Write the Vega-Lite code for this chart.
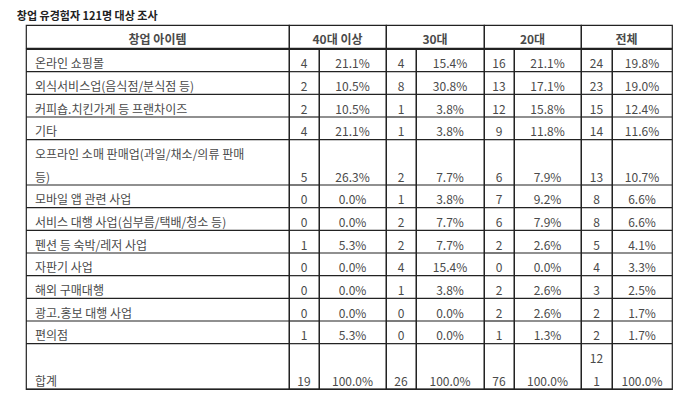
{
"$schema": "https://vega.github.io/schema/vega-lite/v6.json",
"padding": {"left": 16, "top": 11, "right": 5, "bottom": 5},
"title": {"text": "창업 유경험자 121명 대상 조사", "anchor": "start", "font": "Noto Sans CJK KR", "fontSize": 11, "fontWeight": "bold", "color": "#222", "offset": 2, "dx": -8},
"config": {
  "view": {"stroke": "#222", "strokeWidth": 1.2},
  "text": {"font": "Noto Sans CJK KR", "fontSize": 12, "color": "#4a4a4a"}
},
"datasets": {"rows": [
 {"item": "온라인 쇼핑몰", "n40": 4, "p40": 0.211, "n30": 4, "p30": 0.154, "n20": 16, "p20": 0.211, "nAll": 24, "pAll": 0.198},
 {"item": "외식서비스업(음식점/분식점 등)", "n40": 2, "p40": 0.105, "n30": 8, "p30": 0.308, "n20": 13, "p20": 0.171, "nAll": 23, "pAll": 0.19},
 {"item": "커피숍.치킨가게 등 프랜차이즈", "n40": 2, "p40": 0.105, "n30": 1, "p30": 0.038, "n20": 12, "p20": 0.158, "nAll": 15, "pAll": 0.124},
 {"item": "기타", "n40": 4, "p40": 0.211, "n30": 1, "p30": 0.038, "n20": 9, "p20": 0.118, "nAll": 14, "pAll": 0.116},
 {"item": "오프라인 소매 판매업(과일/채소/의류 판매\n등)", "n40": 5, "p40": 0.263, "n30": 2, "p30": 0.077, "n20": 6, "p20": 0.079, "nAll": 13, "pAll": 0.107},
 {"item": "모바일 앱 관련 사업", "n40": 0, "p40": 0, "n30": 1, "p30": 0.038, "n20": 7, "p20": 0.092, "nAll": 8, "pAll": 0.066},
 {"item": "서비스 대행 사업(심부름/택배/청소 등)", "n40": 0, "p40": 0, "n30": 2, "p30": 0.077, "n20": 6, "p20": 0.079, "nAll": 8, "pAll": 0.066},
 {"item": "펜션 등 숙박/레저 사업", "n40": 1, "p40": 0.053, "n30": 2, "p30": 0.077, "n20": 2, "p20": 0.026, "nAll": 5, "pAll": 0.041},
 {"item": "자판기 사업", "n40": 0, "p40": 0, "n30": 4, "p30": 0.154, "n20": 0, "p20": 0, "nAll": 4, "pAll": 0.033},
 {"item": "해외 구매대행", "n40": 0, "p40": 0, "n30": 1, "p30": 0.038, "n20": 2, "p20": 0.026, "nAll": 3, "pAll": 0.025},
 {"item": "광고.홍보 대행 사업", "n40": 0, "p40": 0, "n30": 0, "p30": 0, "n20": 2, "p20": 0.026, "nAll": 2, "pAll": 0.017},
 {"item": "편의점", "n40": 1, "p40": 0.053, "n30": 0, "p30": 0, "n20": 1, "p20": 0.013, "nAll": 2, "pAll": 0.017},
 {"item": "합계", "n40": 19, "p40": 1, "n30": 26, "p30": 1, "n20": 76, "p20": 1, "nAll": 121, "pAll": 1}
]},
"spacing": -1.2,
"vconcat": [
 {"spacing": 0, "bounds": "flush", "hconcat": [
   {"width": 263, "height": 23, "data": {"values": [{"h": "창업 아이템"}]}, "mark": {"type": "text", "fontWeight": "bold", "dy": 3}, "encoding": {"x": {"field": "h", "type": "nominal", "axis": null}, "y": {"field": "h", "type": "nominal", "axis": null}, "text": {"field": "h"}}},
   {"width": 97, "height": 23, "data": {"values": [{"h": "40대 이상"}]}, "mark": {"type": "text", "fontWeight": "bold", "dy": 3}, "encoding": {"x": {"field": "h", "type": "nominal", "axis": null}, "y": {"field": "h", "type": "nominal", "axis": null}, "text": {"field": "h"}}},
   {"width": 98, "height": 23, "data": {"values": [{"h": "30대"}]}, "mark": {"type": "text", "fontWeight": "bold", "dy": 3}, "encoding": {"x": {"field": "h", "type": "nominal", "axis": null}, "y": {"field": "h", "type": "nominal", "axis": null}, "text": {"field": "h"}}},
   {"width": 97, "height": 23, "data": {"values": [{"h": "20대"}]}, "mark": {"type": "text", "fontWeight": "bold", "dy": 3}, "encoding": {"x": {"field": "h", "type": "nominal", "axis": null}, "y": {"field": "h", "type": "nominal", "axis": null}, "text": {"field": "h"}}},
   {"width": 91, "height": 23, "data": {"values": [{"h": "전체"}]}, "mark": {"type": "text", "fontWeight": "bold", "dy": 3}, "encoding": {"x": {"field": "h", "type": "nominal", "axis": null}, "y": {"field": "h", "type": "nominal", "axis": null}, "text": {"field": "h"}}}
 ]},
 {"spacing": 0, "bounds": "flush", "hconcat": [
   {"width": 263, "height": 340, "data": {"name": "rows"}, "layer": [
     {"mark": {"type": "rule", "color": "#222", "strokeWidth": 1.2}, "encoding": {"y": {"field": "item", "type": "nominal", "bandPosition": 1, "axis": null, "scale": {"type": "band", "paddingInner": 0, "paddingOuter": 0, "domain": ["온라인 쇼핑몰","외식서비스업(음식점/분식점 등)","커피숍.치킨가게 등 프랜차이즈","기타"," ","오프라인 소매 판매업(과일/채소/의류 판매\n등)","모바일 앱 관련 사업","서비스 대행 사업(심부름/택배/청소 등)","펜션 등 숙박/레저 사업","자판기 사업","해외 구매대행","광고.홍보 대행 사업","편의점","  ","합계"]}}}},
     {"transform": [{"filter": "indexof(datum.item, '\\n') < 0"}], "mark": {"type": "text", "align": "left", "dx": 9, "dy": 4}, "encoding": {"x": {"value": 0}, "y": {"field": "item", "type": "nominal", "axis": null, "scale": {"type": "band", "paddingInner": 0, "paddingOuter": 0, "domain": ["온라인 쇼핑몰","외식서비스업(음식점/분식점 등)","커피숍.치킨가게 등 프랜차이즈","기타"," ","오프라인 소매 판매업(과일/채소/의류 판매\n등)","모바일 앱 관련 사업","서비스 대행 사업(심부름/택배/청소 등)","펜션 등 숙박/레저 사업","자판기 사업","해외 구매대행","광고.홍보 대행 사업","편의점","  ","합계"]}}, "text": {"field": "item"}}},
     {"transform": [{"filter": "indexof(datum.item, '\\n') >= 0"}], "mark": {"type": "text", "align": "left", "dx": 9, "dy": -18.7, "lineBreak": "\n", "lineHeight": 22.7}, "encoding": {"x": {"value": 0}, "y": {"field": "item", "type": "nominal", "axis": null, "scale": {"type": "band", "paddingInner": 0, "paddingOuter": 0, "domain": ["온라인 쇼핑몰","외식서비스업(음식점/분식점 등)","커피숍.치킨가게 등 프랜차이즈","기타"," ","오프라인 소매 판매업(과일/채소/의류 판매\n등)","모바일 앱 관련 사업","서비스 대행 사업(심부름/택배/청소 등)","펜션 등 숙박/레저 사업","자판기 사업","해외 구매대행","광고.홍보 대행 사업","편의점","  ","합계"]}}, "text": {"field": "item"}}}
   ]},
   {"width": 30, "height": 340, "data": {"name": "rows"}, "layer": [
     {"mark": {"type": "rule", "color": "#222", "strokeWidth": 1.2}, "encoding": {"y": {"field": "item", "type": "nominal", "bandPosition": 1, "axis": null, "scale": {"type": "band", "paddingInner": 0, "paddingOuter": 0, "domain": ["온라인 쇼핑몰","외식서비스업(음식점/분식점 등)","커피숍.치킨가게 등 프랜차이즈","기타"," ","오프라인 소매 판매업(과일/채소/의류 판매\n등)","모바일 앱 관련 사업","서비스 대행 사업(심부름/택배/청소 등)","펜션 등 숙박/레저 사업","자판기 사업","해외 구매대행","광고.홍보 대행 사업","편의점","  ","합계"]}}}},
     {"mark": {"type": "text", "dy": 4}, "encoding": {"y": {"field": "item", "type": "nominal", "axis": null, "scale": {"type": "band", "paddingInner": 0, "paddingOuter": 0, "domain": ["온라인 쇼핑몰","외식서비스업(음식점/분식점 등)","커피숍.치킨가게 등 프랜차이즈","기타"," ","오프라인 소매 판매업(과일/채소/의류 판매\n등)","모바일 앱 관련 사업","서비스 대행 사업(심부름/택배/청소 등)","펜션 등 숙박/레저 사업","자판기 사업","해외 구매대행","광고.홍보 대행 사업","편의점","  ","합계"]}}, "text": {"field": "n40", "type": "quantitative"}}}
   ]},
   {"width": 67, "height": 340, "data": {"name": "rows"}, "layer": [
     {"mark": {"type": "rule", "color": "#222", "strokeWidth": 1.2}, "encoding": {"y": {"field": "item", "type": "nominal", "bandPosition": 1, "axis": null, "scale": {"type": "band", "paddingInner": 0, "paddingOuter": 0, "domain": ["온라인 쇼핑몰","외식서비스업(음식점/분식점 등)","커피숍.치킨가게 등 프랜차이즈","기타"," ","오프라인 소매 판매업(과일/채소/의류 판매\n등)","모바일 앱 관련 사업","서비스 대행 사업(심부름/택배/청소 등)","펜션 등 숙박/레저 사업","자판기 사업","해외 구매대행","광고.홍보 대행 사업","편의점","  ","합계"]}}}},
     {"mark": {"type": "text", "dy": 4}, "encoding": {"y": {"field": "item", "type": "nominal", "axis": null, "scale": {"type": "band", "paddingInner": 0, "paddingOuter": 0, "domain": ["온라인 쇼핑몰","외식서비스업(음식점/분식점 등)","커피숍.치킨가게 등 프랜차이즈","기타"," ","오프라인 소매 판매업(과일/채소/의류 판매\n등)","모바일 앱 관련 사업","서비스 대행 사업(심부름/택배/청소 등)","펜션 등 숙박/레저 사업","자판기 사업","해외 구매대행","광고.홍보 대행 사업","편의점","  ","합계"]}}, "text": {"field": "p40", "type": "quantitative", "format": ".1%"}}}
   ]},
   {"width": 30, "height": 340, "data": {"name": "rows"}, "layer": [
     {"mark": {"type": "rule", "color": "#222", "strokeWidth": 1.2}, "encoding": {"y": {"field": "item", "type": "nominal", "bandPosition": 1, "axis": null, "scale": {"type": "band", "paddingInner": 0, "paddingOuter": 0, "domain": ["온라인 쇼핑몰","외식서비스업(음식점/분식점 등)","커피숍.치킨가게 등 프랜차이즈","기타"," ","오프라인 소매 판매업(과일/채소/의류 판매\n등)","모바일 앱 관련 사업","서비스 대행 사업(심부름/택배/청소 등)","펜션 등 숙박/레저 사업","자판기 사업","해외 구매대행","광고.홍보 대행 사업","편의점","  ","합계"]}}}},
     {"mark": {"type": "text", "dy": 4}, "encoding": {"y": {"field": "item", "type": "nominal", "axis": null, "scale": {"type": "band", "paddingInner": 0, "paddingOuter": 0, "domain": ["온라인 쇼핑몰","외식서비스업(음식점/분식점 등)","커피숍.치킨가게 등 프랜차이즈","기타"," ","오프라인 소매 판매업(과일/채소/의류 판매\n등)","모바일 앱 관련 사업","서비스 대행 사업(심부름/택배/청소 등)","펜션 등 숙박/레저 사업","자판기 사업","해외 구매대행","광고.홍보 대행 사업","편의점","  ","합계"]}}, "text": {"field": "n30", "type": "quantitative"}}}
   ]},
   {"width": 68, "height": 340, "data": {"name": "rows"}, "layer": [
     {"mark": {"type": "rule", "color": "#222", "strokeWidth": 1.2}, "encoding": {"y": {"field": "item", "type": "nominal", "bandPosition": 1, "axis": null, "scale": {"type": "band", "paddingInner": 0, "paddingOuter": 0, "domain": ["온라인 쇼핑몰","외식서비스업(음식점/분식점 등)","커피숍.치킨가게 등 프랜차이즈","기타"," ","오프라인 소매 판매업(과일/채소/의류 판매\n등)","모바일 앱 관련 사업","서비스 대행 사업(심부름/택배/청소 등)","펜션 등 숙박/레저 사업","자판기 사업","해외 구매대행","광고.홍보 대행 사업","편의점","  ","합계"]}}}},
     {"mark": {"type": "text", "dy": 4}, "encoding": {"y": {"field": "item", "type": "nominal", "axis": null, "scale": {"type": "band", "paddingInner": 0, "paddingOuter": 0, "domain": ["온라인 쇼핑몰","외식서비스업(음식점/분식점 등)","커피숍.치킨가게 등 프랜차이즈","기타"," ","오프라인 소매 판매업(과일/채소/의류 판매\n등)","모바일 앱 관련 사업","서비스 대행 사업(심부름/택배/청소 등)","펜션 등 숙박/레저 사업","자판기 사업","해외 구매대행","광고.홍보 대행 사업","편의점","  ","합계"]}}, "text": {"field": "p30", "type": "quantitative", "format": ".1%"}}}
   ]},
   {"width": 30, "height": 340, "data": {"name": "rows"}, "layer": [
     {"mark": {"type": "rule", "color": "#222", "strokeWidth": 1.2}, "encoding": {"y": {"field": "item", "type": "nominal", "bandPosition": 1, "axis": null, "scale": {"type": "band", "paddingInner": 0, "paddingOuter": 0, "domain": ["온라인 쇼핑몰","외식서비스업(음식점/분식점 등)","커피숍.치킨가게 등 프랜차이즈","기타"," ","오프라인 소매 판매업(과일/채소/의류 판매\n등)","모바일 앱 관련 사업","서비스 대행 사업(심부름/택배/청소 등)","펜션 등 숙박/레저 사업","자판기 사업","해외 구매대행","광고.홍보 대행 사업","편의점","  ","합계"]}}}},
     {"mark": {"type": "text", "dy": 4}, "encoding": {"y": {"field": "item", "type": "nominal", "axis": null, "scale": {"type": "band", "paddingInner": 0, "paddingOuter": 0, "domain": ["온라인 쇼핑몰","외식서비스업(음식점/분식점 등)","커피숍.치킨가게 등 프랜차이즈","기타"," ","오프라인 소매 판매업(과일/채소/의류 판매\n등)","모바일 앱 관련 사업","서비스 대행 사업(심부름/택배/청소 등)","펜션 등 숙박/레저 사업","자판기 사업","해외 구매대행","광고.홍보 대행 사업","편의점","  ","합계"]}}, "text": {"field": "n20", "type": "quantitative"}}}
   ]},
   {"width": 67, "height": 340, "data": {"name": "rows"}, "layer": [
     {"mark": {"type": "rule", "color": "#222", "strokeWidth": 1.2}, "encoding": {"y": {"field": "item", "type": "nominal", "bandPosition": 1, "axis": null, "scale": {"type": "band", "paddingInner": 0, "paddingOuter": 0, "domain": ["온라인 쇼핑몰","외식서비스업(음식점/분식점 등)","커피숍.치킨가게 등 프랜차이즈","기타"," ","오프라인 소매 판매업(과일/채소/의류 판매\n등)","모바일 앱 관련 사업","서비스 대행 사업(심부름/택배/청소 등)","펜션 등 숙박/레저 사업","자판기 사업","해외 구매대행","광고.홍보 대행 사업","편의점","  ","합계"]}}}},
     {"mark": {"type": "text", "dy": 4}, "encoding": {"y": {"field": "item", "type": "nominal", "axis": null, "scale": {"type": "band", "paddingInner": 0, "paddingOuter": 0, "domain": ["온라인 쇼핑몰","외식서비스업(음식점/분식점 등)","커피숍.치킨가게 등 프랜차이즈","기타"," ","오프라인 소매 판매업(과일/채소/의류 판매\n등)","모바일 앱 관련 사업","서비스 대행 사업(심부름/택배/청소 등)","펜션 등 숙박/레저 사업","자판기 사업","해외 구매대행","광고.홍보 대행 사업","편의점","  ","합계"]}}, "text": {"field": "p20", "type": "quantitative", "format": ".1%"}}}
   ]},
   {"width": 31, "height": 340, "data": {"name": "rows"}, "layer": [
     {"mark": {"type": "rule", "color": "#222", "strokeWidth": 1.2}, "encoding": {"y": {"field": "item", "type": "nominal", "bandPosition": 1, "axis": null, "scale": {"type": "band", "paddingInner": 0, "paddingOuter": 0, "domain": ["온라인 쇼핑몰","외식서비스업(음식점/분식점 등)","커피숍.치킨가게 등 프랜차이즈","기타"," ","오프라인 소매 판매업(과일/채소/의류 판매\n등)","모바일 앱 관련 사업","서비스 대행 사업(심부름/택배/청소 등)","펜션 등 숙박/레저 사업","자판기 사업","해외 구매대행","광고.홍보 대행 사업","편의점","  ","합계"]}}}},
     {"transform": [{"filter": "datum.item !== '합계'"}], "mark": {"type": "text", "dy": 4}, "encoding": {"y": {"field": "item", "type": "nominal", "axis": null, "scale": {"type": "band", "paddingInner": 0, "paddingOuter": 0, "domain": ["온라인 쇼핑몰","외식서비스업(음식점/분식점 등)","커피숍.치킨가게 등 프랜차이즈","기타"," ","오프라인 소매 판매업(과일/채소/의류 판매\n등)","모바일 앱 관련 사업","서비스 대행 사업(심부름/택배/청소 등)","펜션 등 숙박/레저 사업","자판기 사업","해외 구매대행","광고.홍보 대행 사업","편의점","  ","합계"]}}, "text": {"field": "nAll", "type": "quantitative"}}},
     {"transform": [{"filter": "datum.item === '합계'"}], "mark": {"type": "text", "dy": -18.7, "lineHeight": 22.7, "lineBreak": {"expr": "regexp('(?<=^12)(?=1$)')"}}, "encoding": {"y": {"field": "item", "type": "nominal", "axis": null, "scale": {"type": "band", "paddingInner": 0, "paddingOuter": 0, "domain": ["온라인 쇼핑몰","외식서비스업(음식점/분식점 등)","커피숍.치킨가게 등 프랜차이즈","기타"," ","오프라인 소매 판매업(과일/채소/의류 판매\n등)","모바일 앱 관련 사업","서비스 대행 사업(심부름/택배/청소 등)","펜션 등 숙박/레저 사업","자판기 사업","해외 구매대행","광고.홍보 대행 사업","편의점","  ","합계"]}}, "text": {"field": "nAll", "type": "quantitative"}}}
   ]},
   {"width": 60, "height": 340, "data": {"name": "rows"}, "layer": [
     {"mark": {"type": "rule", "color": "#222", "strokeWidth": 1.2}, "encoding": {"y": {"field": "item", "type": "nominal", "bandPosition": 1, "axis": null, "scale": {"type": "band", "paddingInner": 0, "paddingOuter": 0, "domain": ["온라인 쇼핑몰","외식서비스업(음식점/분식점 등)","커피숍.치킨가게 등 프랜차이즈","기타"," ","오프라인 소매 판매업(과일/채소/의류 판매\n등)","모바일 앱 관련 사업","서비스 대행 사업(심부름/택배/청소 등)","펜션 등 숙박/레저 사업","자판기 사업","해외 구매대행","광고.홍보 대행 사업","편의점","  ","합계"]}}}},
     {"mark": {"type": "text", "dy": 4}, "encoding": {"y": {"field": "item", "type": "nominal", "axis": null, "scale": {"type": "band", "paddingInner": 0, "paddingOuter": 0, "domain": ["온라인 쇼핑몰","외식서비스업(음식점/분식점 등)","커피숍.치킨가게 등 프랜차이즈","기타"," ","오프라인 소매 판매업(과일/채소/의류 판매\n등)","모바일 앱 관련 사업","서비스 대행 사업(심부름/택배/청소 등)","펜션 등 숙박/레저 사업","자판기 사업","해외 구매대행","광고.홍보 대행 사업","편의점","  ","합계"]}}, "text": {"field": "pAll", "type": "quantitative", "format": ".1%"}}}
   ]}
 ]}
]
}
